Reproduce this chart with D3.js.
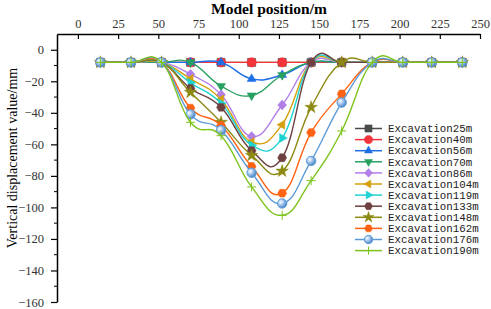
<!DOCTYPE html>
<html>
<head>
<meta charset="utf-8">
<script src="https://cdn.jsdelivr.net/npm/d3@7"></script>
<style>
  body { margin: 0; background: #fff; }
  svg { display: block; }
</style>
</head>
<body>
<div id="chart"></div>
<script>
// model positions (m) of the monitoring points
const positions = [14, 33, 52, 70, 89, 108, 127, 145, 164, 183, 202, 220, 239];

const seriesNames = ["Excavation25m", "Excavation40m", "Excavation56m", "Excavation70m",
  "Excavation86m", "Excavation104m", "Excavation119m", "Excavation133m",
  "Excavation148m", "Excavation162m", "Excavation176m", "Excavation190m"];

const exc25  = [-8, -8, -8, -8, -8, -8, -8, -8, -8, -8, -8, -8, -8];
const exc40  = [-8, -8, -8, -8, -8, -8, -8, -8, -8, -8, -8, -8, -8];
const exc56  = [-8, -8, -8, -8, -8, -18.5, -16, -8, -8, -8, -8, -8, -8];
const exc70  = [-8, -8, -8, -8, -23, -29, -16, -8, -8, -8, -8, -8, -8];
const exc86  = [-8, -8, -8, -15.5, -28.5, -55, -35, -8, -8, -8, -8, -8, -8];
const exc104 = [-8, -8, -8, -18.5, -31.5, -58.5, -47.5, -8, -8, -8, -8, -8, -8];
const exc119 = [-8, -8, -8, -21, -34, -60.5, -56, -8, -8, -8, -8, -8, -8];
const exc133 = [-8, -8, -8, -24.5, -36.5, -64, -68.5, -8, -8, -8, -8, -8, -8];
const exc148 = [-8, -8, -8, -27, -46, -67, -77, -36.5, -8, -8, -8, -8, -8];
const exc162 = [-8, -8, -8, -37, -48, -74, -91, -52.5, -28, -8, -8, -8, -8];
const exc176 = [-8, -8, -8, -41, -51, -78, -97.5, -70.5, -33.5, -8, -8, -8, -8];
const exc190 = [-8, -8, -8, -46, -54.5, -87, -105, -83, -51.5, -8, -8, -8, -8];

const seriesValues = [exc25, exc40, exc56, exc70, exc86, exc104, exc119, exc133,
  exc148, exc162, exc176, exc190];

const colors = ["#4a4a4a", "#f5333a", "#1e6fe6", "#27a060", "#b27ee8", "#d4a00c",
  "#1cd2d2", "#6e4040", "#8c8a12", "#ff6212", "#5b9ad8", "#7cc41c"];
const markers = ["square", "circle", "triUp", "triDown", "diamond", "triLeft",
  "triRight", "hexagon", "star", "hexagon", "sphere", "plus"];

const xTicks = [0, 25, 50, 75, 100, 125, 150, 175, 200, 225, 250];
const yTicks = [0, -20, -40, -60, -80, -100, -120, -140, -160];

const width = 491, height = 309;
const svg = d3.select("#chart").append("svg")
  .attr("width", width).attr("height", height);

const defs = svg.append("defs");
const grad = defs.append("radialGradient").attr("id", "sphere")
  .attr("cx", "35%").attr("cy", "35%").attr("r", "65%");
grad.append("stop").attr("offset", "0%").attr("stop-color", "#ffffff");
grad.append("stop").attr("offset", "45%").attr("stop-color", "#a9c8ee");
grad.append("stop").attr("offset", "100%").attr("stop-color", "#4a86c8");

const x = d3.scaleLinear().domain([-13, 250]).range([57, 480]);
const y = d3.scaleLinear().domain([-160, 10]).range([302, 34]);

// axes
const topAxis = svg.append("g")
  .attr("transform", "translate(0," + y(10) + ")")
  .call(d3.axisTop(x).tickValues(xTicks).tickSizeInner(-5).tickSizeOuter(0).tickPadding(6));

const leftAxis = svg.append("g")
  .attr("transform", "translate(" + x(-13) + ",0)")
  .call(d3.axisLeft(y).tickValues(yTicks).tickSizeInner(6).tickSizeOuter(0).tickPadding(7));

[topAxis, leftAxis].forEach(a => {
  a.select(".domain").attr("stroke", "#000").attr("stroke-width", 1.5);
  a.selectAll(".tick line").attr("stroke", "#000").attr("stroke-width", 1.2);
  a.selectAll(".tick text")
    .style("font-family", "'Liberation Serif', 'DejaVu Serif', serif")
    .style("font-size", "12.5px")
    .attr("fill", "#333");
});

// minor ticks on the vertical axis
leftAxis.selectAll(".minor")
  .data(d3.range(-150, 10, 20))
  .enter().append("line")
  .attr("class", "minor")
  .attr("x1", -3).attr("x2", 0)
  .attr("y1", d => y(d)).attr("y2", d => y(d))
  .attr("stroke", "#000").attr("stroke-width", 1);

svg.append("text")
  .attr("x", 269).attr("y", 14)
  .attr("text-anchor", "middle")
  .style("font-family", "'Liberation Serif', serif")
  .style("font-size", "15.5px")
  .style("font-weight", "bold")
  .text("Model position/m");

svg.append("text")
  .attr("transform", "translate(17,158) rotate(-90)")
  .attr("text-anchor", "middle")
  .style("font-family", "'Liberation Serif', serif")
  .style("font-size", "14px")
  .text("Vertical displacement value/mm");

// marker shapes
function markerPath(type, s) {
  const r = s / 2;
  const tri = (rot) => {
    const pts = d3.range(3).map(k => {
      const a = rot + k * 2 * Math.PI / 3;
      return [r * 1.15 * Math.sin(a), -r * 1.15 * Math.cos(a)];
    });
    return "M" + pts.map(p => p.join(",")).join("L") + "Z";
  };
  switch (type) {
    case "square": return d3.symbol(d3.symbolSquare, s * s * 0.8)();
    case "circle": return d3.symbol(d3.symbolCircle, s * s * 0.85)();
    case "triUp": return tri(0);
    case "triDown": return tri(Math.PI);
    case "triLeft": return tri(-Math.PI / 2);
    case "triRight": return tri(Math.PI / 2);
    case "diamond": return "M0," + (-r * 1.1) + "L" + r + ",0L0," + (r * 1.1) + "L" + (-r) + ",0Z";
    case "hexagon": {
      const pts = d3.range(6).map(k => {
        const a = k * Math.PI / 3;
        return [r * Math.cos(a), r * Math.sin(a)];
      });
      return "M" + pts.map(p => p.join(",")).join("L") + "Z";
    }
    case "star": return d3.symbol(d3.symbolStar, s * s * 0.6)();
    case "sphere": return d3.symbol(d3.symbolCircle, s * s * 0.85)();
    case "plus": return "M" + (-r) + ",0H" + r + "M0," + (-r) + "V" + r;
  }
}

function drawMarker(sel, type, color, size) {
  const p = sel.append("path").attr("d", markerPath(type, size));
  if (type === "plus") {
    p.attr("fill", "none").attr("stroke", color).attr("stroke-width", 1);
  } else if (type === "sphere") {
    p.attr("fill", "url(#sphere)").attr("stroke", color).attr("stroke-width", 1);
  } else {
    p.attr("fill", color).attr("stroke", color).attr("stroke-width", 0.5);
  }
  return p;
}

const line = d3.line()
  .x(d => x(d[0]))
  .y(d => y(d[1]))
  .curve(d3.curveCardinal.tension(-0.3));

const plot = svg.append("g");

seriesValues.forEach((vals, i) => {
  const pts = positions.map((p, j) => [p, vals[j]]);
  const g = plot.append("g");
  g.append("path")
    .attr("d", line(pts))
    .attr("fill", "none")
    .attr("stroke", colors[i])
    .attr("stroke-width", 1.4);
  pts.forEach(pt => {
    const m = g.append("g").attr("transform", "translate(" + x(pt[0]) + "," + y(pt[1]) + ")");
    drawMarker(m, markers[i], colors[i], 9);
  });
});

// legend
const legend = svg.append("g");
seriesNames.forEach((name, i) => {
  const ly = 128.5 + i * 11.1;
  const row = legend.append("g").attr("transform", "translate(355," + ly + ")");
  row.append("line").attr("x1", 0).attr("x2", 27).attr("y1", 0).attr("y2", 0)
    .attr("stroke", colors[i]).attr("stroke-width", 1.5);
  const m = row.append("g").attr("transform", "translate(13.5,0)");
  drawMarker(m, markers[i], colors[i], 8);
  row.append("text")
    .attr("x", 33).attr("y", 0).attr("dy", "0.35em")
    .style("font-family", "'Liberation Mono', 'DejaVu Sans Mono', monospace")
    .style("font-size", "10.8px")
    .attr("fill", "#222")
    .text(name);
});
</script>
</body>
</html>
